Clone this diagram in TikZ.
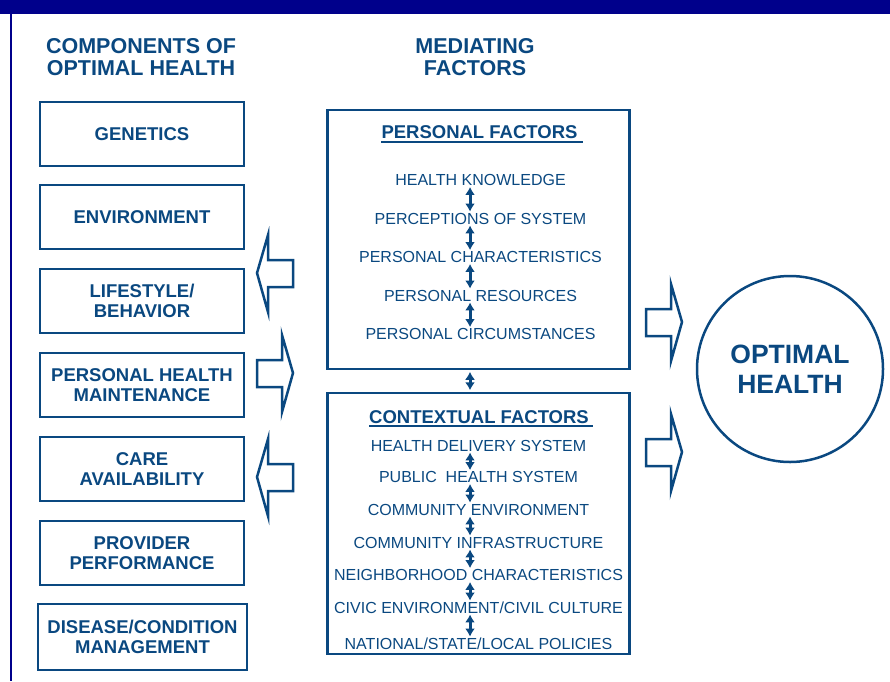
\documentclass[tikz,border=0pt]{standalone}
\usepackage{fontspec}
\setmainfont{Liberation Sans}
\usetikzlibrary{arrows.meta}
\definecolor{hblue}{RGB}{10,72,128}
\definecolor{hnavy}{RGB}{0,0,139}

\begin{document}
\begin{tikzpicture}[x=1pt,y=-1pt,
  colhead/.style={align=center,text=hblue,
    font=\fontsize{21.5}{22}\selectfont\bfseries},
  compbox/.style={draw=hblue,line width=2.5pt,minimum width=204pt,
    minimum height=64pt,align=center,text=hblue,
    font=\fontsize{18.5}{20}\selectfont\bfseries},
  factorbox/.style={draw=hblue,line width=2.5pt,minimum width=302pt},
  title/.style={inner sep=0pt,text height=13.3pt,text depth=0pt,text=hblue,
    font=\fontsize{18.5}{20}\selectfont\bfseries},
  item/.style={inner sep=1pt,text height=11.5pt,text depth=0pt,text=hblue,
    font=\fontsize{16}{18}\selectfont},
  link/.style={hblue,line width=3pt,
    {Latex[length=8pt,width=10pt]}-{Latex[length=8pt,width=10pt]}},
  bigarrow/.style={draw=hblue,line width=2.5pt,fill=white,line join=miter}]
\useasboundingbox (0,0) rectangle (890,681);
% frame
\fill[hnavy] (0,0) rectangle (890,13.5);
\draw[hnavy,line width=2pt] (11,13) -- (11,681);

% column headings
\node[colhead] (hcomp) at (141,57) {COMPONENTS OF\\OPTIMAL HEALTH};
\node[colhead] (hmed) at (475,57) {MEDIATING\\FACTORS};

% components
\node[compbox] (comp1) at (142,134) {GENETICS};
\node[compbox] (comp2) at (142,217) {ENVIRONMENT};
\node[compbox] (comp3) at (142,301) {LIFESTYLE/\\BEHAVIOR};
\node[compbox] (comp4) at (142,385) {PERSONAL HEALTH\\MAINTENANCE};
\node[compbox] (comp5) at (142,469) {CARE\\AVAILABILITY};
\node[compbox] (comp6) at (142,553) {PROVIDER\\PERFORMANCE};
\node[compbox,minimum width=209pt,minimum height=66pt] (comp7) at (142.5,637)
  {DISEASE/CONDITION\\MANAGEMENT};

% mediating factors
\node[factorbox,minimum height=259pt] (pbox) at (478.5,239.5) {};
\node[factorbox,minimum height=261pt] (cbox) at (478.5,523.5) {};
\coordinate (ax) at (470,0);

\node[title] (ptitle) at (479.5,132) {PERSONAL FACTORS};
\draw[hblue,line width=1.8pt] ([yshift=-3pt]ptitle.base west)
  -- ([xshift=5pt,yshift=-3pt]ptitle.base east);
\foreach \t [count=\i] in {HEALTH KNOWLEDGE,PERCEPTIONS OF SYSTEM,
    PERSONAL CHARACTERISTICS,PERSONAL RESOURCES,PERSONAL CIRCUMSTANCES}
  \node[item] (p\i) at (480.5,{180+38.5*(\i-1)}) {\t};
\foreach \a/\b in {p1/p2,p2/p3,p3/p4,p4/p5}
  \draw[link] (\a.south -| ax) -- (\b.north -| ax);

\node[title] (ctitle) at (479,416.5) {CONTEXTUAL FACTORS};
\draw[hblue,line width=1.8pt] ([yshift=-3pt]ctitle.base west)
  -- ([xshift=4pt,yshift=-3pt]ctitle.base east);
\foreach \y/\t [count=\i] in {445.5/HEALTH DELIVERY SYSTEM,
    477/PUBLIC\ \ HEALTH SYSTEM,509.5/COMMUNITY ENVIRONMENT,
    542.5/COMMUNITY INFRASTRUCTURE,575/NEIGHBORHOOD CHARACTERISTICS,
    607.5/{CIVIC ENVIRONMENT/CIVIL CULTURE},
    643.5/{NATIONAL/STATE/LOCAL POLICIES}}
  \node[item] (c\i) at (478.5,\y) {\t};
\foreach \a/\b in {c1/c2,c2/c3,c3/c4,c4/c5,c5/c6,c6/c7}
  \draw[link] (\a.south -| ax) -- (\b.north -| ax);

\draw[link,shorten <=1.5pt,shorten >=1.5pt] (pbox.south -| ax) -- (cbox.north -| ax);

% outcome
\node[draw=hblue,line width=2.5pt,circle,minimum size=186pt,align=center,
  text=hblue,font=\fontsize{26.5}{30}\selectfont\bfseries] (goal) at (790,369)
  {OPTIMAL\\HEALTH};

% block arrows
\foreach \tx/\ty/\d in {257/273/1,293/373/-1,257/477/1,682/322/-1,682/452/-1}
  \draw[bigarrow] (\tx,\ty) -- ++({11*\d},-38) -- ++(0,25) -- ++({25*\d},0)
    -- ++(0,27) -- ++({-25*\d},0) -- ++(0,25) -- cycle;
\end{tikzpicture}
\end{document}
